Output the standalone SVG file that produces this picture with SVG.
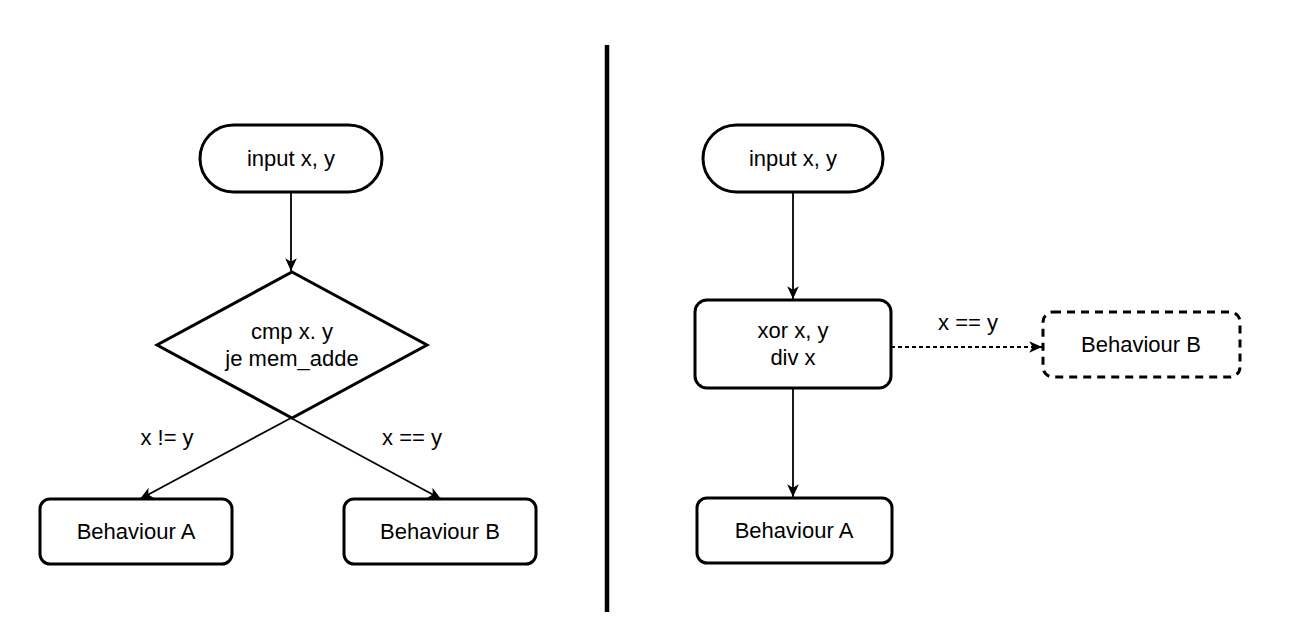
<svg xmlns="http://www.w3.org/2000/svg" width="1300" height="634" viewBox="0 0 1300 634">
<style>
.shape{fill:#fff;stroke:#000;stroke-width:3}
.dash{stroke-dasharray:8 6}
.edge{fill:none;stroke:#000;stroke-width:1.8}
.dedge{stroke-dasharray:4 3}
text{font-family:"Liberation Sans",Arial,Helvetica,sans-serif;font-size:22px;fill:#000;text-anchor:middle}
</style>
<defs>
<marker id="arr" markerUnits="userSpaceOnUse" markerWidth="14" markerHeight="14" viewBox="0 0 12 12" refX="11" refY="6" orient="auto">
<path d="M0,1 L11,6 L0,11 L3,6 Z" fill="#000" stroke="none"/>
</marker>
</defs>
<rect width="1300" height="634" fill="#fff"/>
<g id="divider"><line x1="607" y1="45" x2="607" y2="612" stroke="#000" stroke-width="4.5"/></g>
<g id="connectors">
<line class="edge" x1="291" y1="192" x2="291" y2="271" marker-end="url(#arr)"/>
<line class="edge" x1="291" y1="418" x2="140" y2="499" marker-end="url(#arr)"/>
<line class="edge" x1="291" y1="418" x2="441" y2="499" marker-end="url(#arr)"/>
<line class="edge" x1="793" y1="192" x2="793" y2="299" marker-end="url(#arr)"/>
<line class="edge" x1="793" y1="388" x2="793" y2="497" marker-end="url(#arr)"/>
<line class="edge dedge" x1="891" y1="347" x2="1042" y2="347" marker-end="url(#arr)"/>
<text x="167" y="445">x != y</text>
<text x="412" y="445">x == y</text>
<text x="968" y="330">x == y</text>
</g>
<g id="left-input">
<rect class="shape" x="200" y="125" width="182" height="67" rx="33.5"/>
<text x="291" y="166">input x, y</text>
</g>
<g id="left-cmp">
<polygon class="shape" points="292,272 427,345 292,418 157,345"/>
<text x="292" y="339">cmp x. y</text>
<text x="292" y="366">je mem_adde</text>
</g>
<g id="left-behA">
<rect class="shape" x="40" y="499" width="192" height="65" rx="10"/>
<text x="136" y="539">Behaviour A</text>
</g>
<g id="left-behB">
<rect class="shape" x="344" y="499" width="192" height="65" rx="10"/>
<text x="440" y="539">Behaviour B</text>
</g>
<g id="right-input">
<rect class="shape" x="703" y="125" width="180" height="67" rx="33.5"/>
<text x="793" y="166">input x, y</text>
</g>
<g id="right-xor">
<rect class="shape" x="695" y="300" width="196" height="88" rx="12"/>
<text x="793" y="338">xor x, y</text>
<text x="793" y="365">div x</text>
</g>
<g id="right-behA">
<rect class="shape" x="697" y="498" width="195" height="65" rx="10"/>
<text x="794" y="538">Behaviour A</text>
</g>
<g id="right-behB">
<rect class="shape dash" x="1043" y="312" width="197" height="65" rx="10"/>
<text x="1141" y="352">Behaviour B</text>
</g>
</svg>
